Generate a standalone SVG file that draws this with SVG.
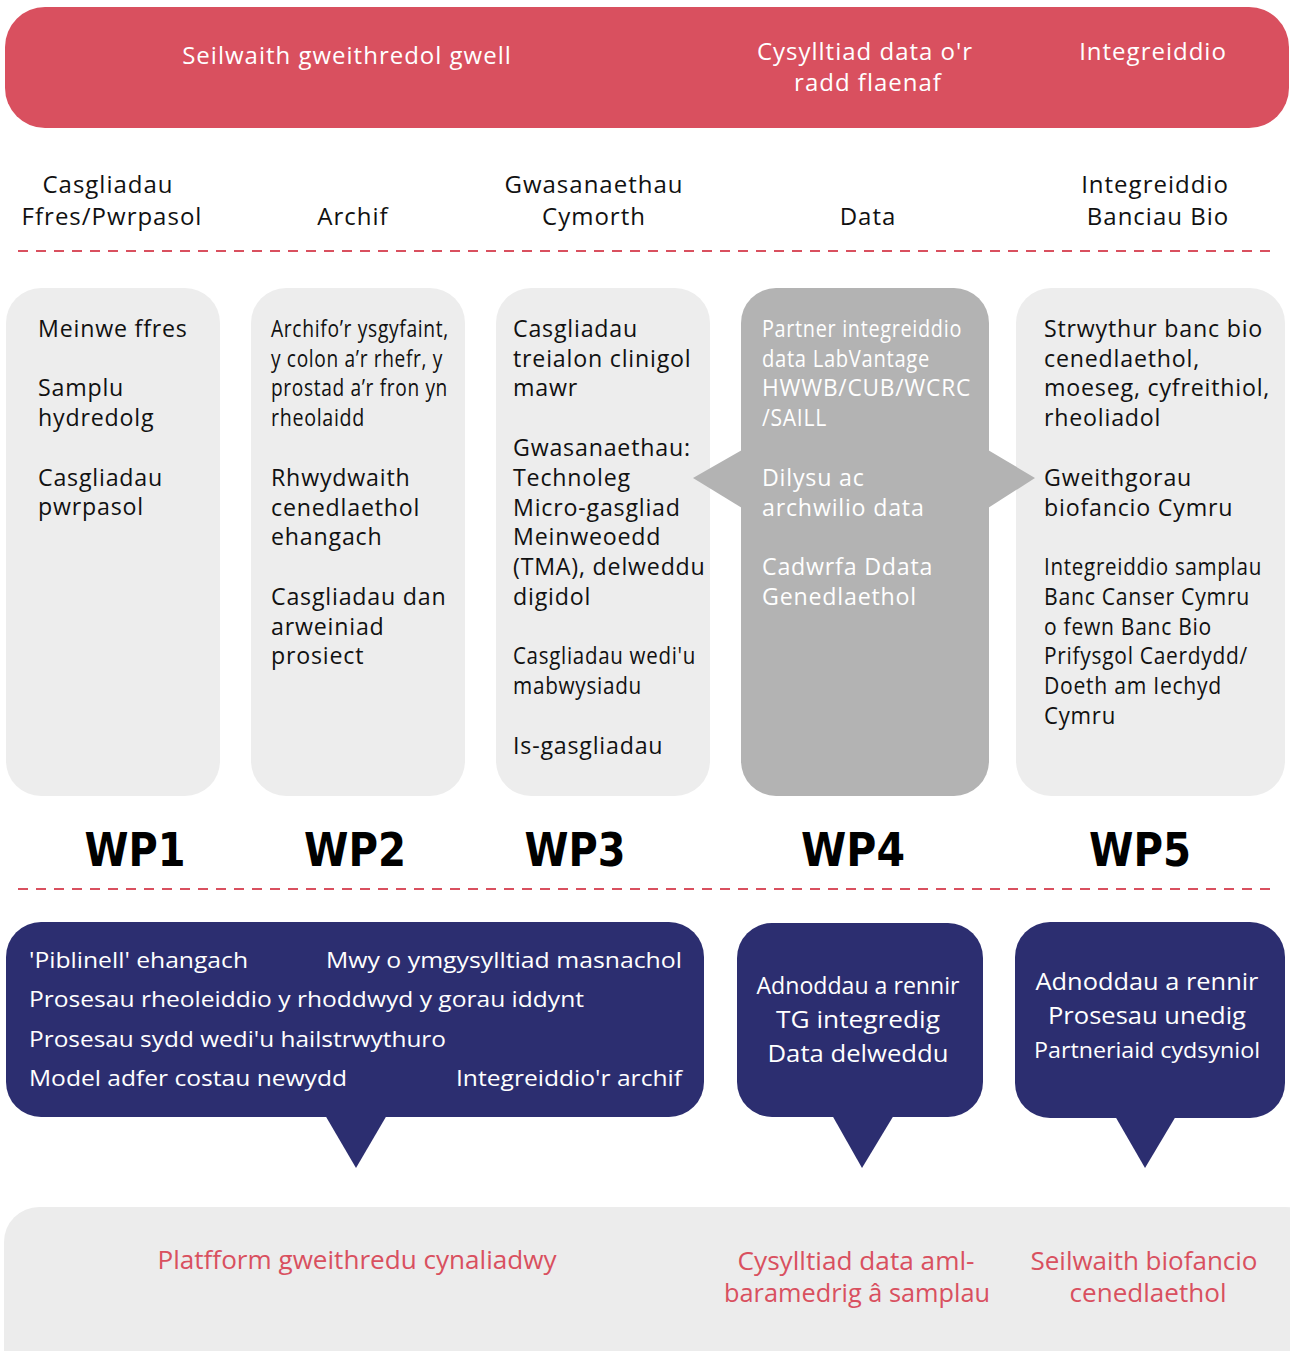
<svg xmlns="http://www.w3.org/2000/svg" width="1290" height="1351" viewBox="0 0 1290 1351">
<style>
text{font-family:"Open Sans","Noto Sans","Liberation Sans",sans-serif;}
.ban{fill:#ffffff;font-size:24px;text-anchor:middle;letter-spacing:1px;}
.hd{fill:#111111;font-size:24px;text-anchor:middle;letter-spacing:1px;}
.col{fill:#ededed;}
.ct{fill:#111111;font-size:23.2px;letter-spacing:0.8px;}
.wt{fill:#ffffff;font-size:23.2px;letter-spacing:0.8px;}
.wp{font-family:"DejaVu Sans",sans-serif;font-weight:bold;font-size:46px;fill:#000;text-anchor:middle;}
.bub{fill:#2c2e70;}
.bt{fill:#ffffff;font-size:22.5px;}
.bc{fill:#ffffff;font-size:23.5px;text-anchor:middle;}
.rt{fill:#d9505f;font-size:25px;text-anchor:middle;}
.dash{stroke:#d9505f;stroke-width:2;stroke-dasharray:10 8;fill:none;}
</style>
<rect width="1290" height="1351" fill="#ffffff"/>

<g id="banner">
<rect x="5" y="7" width="1284" height="121" rx="40" fill="#d9505f"/>
<text class="ban" x="347" y="64">Seilwaith gweithredol gwell</text>
<text class="ban" x="865" y="60">Cysylltiad data o'r</text>
<text class="ban" x="868" y="91">radd flaenaf</text>
<text class="ban" x="1153" y="60">Integreiddio</text>
</g>

<g id="headers">
<text class="hd" x="108" y="193">Casgliadau</text>
<text class="hd" x="112" y="225">Ffres/Pwrpasol</text>
<text class="hd" x="353" y="225">Archif</text>
<text class="hd" x="594" y="193">Gwasanaethau</text>
<text class="hd" x="594" y="225">Cymorth</text>
<text class="hd" x="868" y="225">Data</text>
<text class="hd" x="1155" y="193">Integreiddio</text>
<text class="hd" x="1158" y="225">Banciau Bio</text>
</g>

<g id="dividers">
<line class="dash" x1="18" y1="251" x2="1275" y2="251"/>
<line class="dash" x1="18" y1="889" x2="1275" y2="889"/>
</g>

<g id="col1">
<rect class="col" x="6" y="288" width="214" height="508" rx="35"/>
<text class="ct" x="38" y="337">Meinwe ffres</text>
<text class="ct" x="38" y="396">Samplu</text>
<text class="ct" x="38" y="426">hydredolg</text>
<text class="ct" x="38" y="486">Casgliadau</text>
<text class="ct" x="38" y="515">pwrpasol</text>
</g>

<g id="col2">
<rect class="col" x="251" y="288" width="214" height="508" rx="35"/>
<text class="ct" x="271" y="337" textLength="178" lengthAdjust="spacingAndGlyphs">Archifo’r ysgyfaint,</text>
<text class="ct" x="271" y="367" textLength="172" lengthAdjust="spacingAndGlyphs">y colon a’r rhefr, y</text>
<text class="ct" x="271" y="396" textLength="177" lengthAdjust="spacingAndGlyphs">prostad a’r fron yn</text>
<text class="ct" x="271" y="426" textLength="94" lengthAdjust="spacingAndGlyphs">rheolaidd</text>
<text class="ct" x="271" y="486">Rhwydwaith</text>
<text class="ct" x="271" y="516">cenedlaethol</text>
<text class="ct" x="271" y="545">ehangach</text>
<text class="ct" x="271" y="605">Casgliadau dan</text>
<text class="ct" x="271" y="635">arweiniad</text>
<text class="ct" x="271" y="664">prosiect</text>
</g>

<g id="col3">
<rect class="col" x="496" y="288" width="214" height="508" rx="35"/>
<text class="ct" x="513" y="337">Casgliadau</text>
<text class="ct" x="513" y="367">treialon clinigol</text>
<text class="ct" x="513" y="396">mawr</text>
<text class="ct" x="513" y="456">Gwasanaethau:</text>
<text class="ct" x="513" y="486">Technoleg</text>
<text class="ct" x="513" y="516">Micro-gasgliad</text>
<text class="ct" x="513" y="545">Meinweoedd</text>
<text class="ct" x="513" y="575">(TMA), delweddu</text>
<text class="ct" x="513" y="605">digidol</text>
<text class="ct" x="513" y="664" textLength="183" lengthAdjust="spacingAndGlyphs">Casgliadau wedi'u</text>
<text class="ct" x="513" y="694" textLength="129" lengthAdjust="spacingAndGlyphs">mabwysiadu</text>
<text class="ct" x="513" y="754">Is-gasgliadau</text>
</g>

<g id="col5">
<rect class="col" x="1016" y="288" width="269" height="508" rx="35"/>
<text class="ct" x="1044" y="337">Strwythur banc bio</text>
<text class="ct" x="1044" y="367">cenedlaethol,</text>
<text class="ct" x="1044" y="396">moeseg, cyfreithiol,</text>
<text class="ct" x="1044" y="426">rheoliadol</text>
<text class="ct" x="1044" y="486">Gweithgorau</text>
<text class="ct" x="1044" y="516">biofancio Cymru</text>
<text class="ct" x="1044" y="575" textLength="218" lengthAdjust="spacingAndGlyphs">Integreiddio samplau</text>
<text class="ct" x="1044" y="605" textLength="206" lengthAdjust="spacingAndGlyphs">Banc Canser Cymru</text>
<text class="ct" x="1044" y="635" textLength="168" lengthAdjust="spacingAndGlyphs">o fewn Banc Bio</text>
<text class="ct" x="1044" y="664" textLength="204" lengthAdjust="spacingAndGlyphs">Prifysgol Caerdydd/</text>
<text class="ct" x="1044" y="694" textLength="178" lengthAdjust="spacingAndGlyphs">Doeth am Iechyd</text>
<text class="ct" x="1044" y="724" textLength="72" lengthAdjust="spacingAndGlyphs">Cymru</text>
</g>

<g id="col4">
<polygon points="693,478 742,450 742,508" fill="#b3b3b3"/>
<polygon points="1035,478 988,450 988,508" fill="#b3b3b3"/>
<rect x="741" y="288" width="248" height="508" rx="35" fill="#b3b3b3"/>
<text class="wt" x="762" y="337" textLength="200" lengthAdjust="spacingAndGlyphs">Partner integreiddio</text>
<text class="wt" x="762" y="367" textLength="168" lengthAdjust="spacingAndGlyphs">data LabVantage</text>
<text class="wt" x="762" y="396" textLength="209" lengthAdjust="spacingAndGlyphs">HWWB/CUB/WCRC</text>
<text class="wt" x="762" y="426" textLength="65" lengthAdjust="spacingAndGlyphs">/SAILL</text>
<text class="wt" x="762" y="486">Dilysu ac</text>
<text class="wt" x="762" y="516">archwilio data</text>
<text class="wt" x="762" y="575">Cadwrfa Ddata</text>
<text class="wt" x="762" y="605">Genedlaethol</text>
</g>

<g id="wp-labels">
<text class="wp" x="135" y="866" textLength="101" lengthAdjust="spacingAndGlyphs">WP1</text>
<text class="wp" x="355" y="866" textLength="102" lengthAdjust="spacingAndGlyphs">WP2</text>
<text class="wp" x="575" y="866" textLength="101" lengthAdjust="spacingAndGlyphs">WP3</text>
<text class="wp" x="853" y="866" textLength="104" lengthAdjust="spacingAndGlyphs">WP4</text>
<text class="wp" x="1140" y="866" textLength="102" lengthAdjust="spacingAndGlyphs">WP5</text>
</g>

<g id="bubble1">
<rect class="bub" x="6" y="922" width="698" height="195" rx="35"/>
<polygon class="bub" points="325,1115 387,1115 356,1168"/>
<text class="bt" x="29" y="968" textLength="219" lengthAdjust="spacingAndGlyphs">'Piblinell' ehangach</text>
<text class="bt" x="326" y="968" textLength="356" lengthAdjust="spacingAndGlyphs">Mwy o ymgysylltiad masnachol</text>
<text class="bt" x="29" y="1007" textLength="555" lengthAdjust="spacingAndGlyphs">Prosesau rheoleiddio y rhoddwyd y gorau iddynt</text>
<text class="bt" x="29" y="1047" textLength="417" lengthAdjust="spacingAndGlyphs">Prosesau sydd wedi'u hailstrwythuro</text>
<text class="bt" x="29" y="1086" textLength="318" lengthAdjust="spacingAndGlyphs">Model adfer costau newydd</text>
<text class="bt" x="456" y="1086" textLength="226" lengthAdjust="spacingAndGlyphs">Integreiddio'r archif</text>
</g>

<g id="bubble2">
<rect class="bub" x="737" y="923" width="246" height="194" rx="35"/>
<polygon class="bub" points="832,1115 894,1115 862,1168"/>
<text class="bc" x="858" y="994" textLength="203" lengthAdjust="spacingAndGlyphs">Adnoddau a rennir</text>
<text class="bc" x="858" y="1028" textLength="164" lengthAdjust="spacingAndGlyphs">TG integredig</text>
<text class="bc" x="858" y="1062" textLength="181" lengthAdjust="spacingAndGlyphs">Data delweddu</text>
</g>

<g id="bubble3">
<rect class="bub" x="1015" y="922" width="270" height="196" rx="35"/>
<polygon class="bub" points="1115,1116 1176,1116 1145,1168"/>
<text class="bc" x="1147" y="990" textLength="223" lengthAdjust="spacingAndGlyphs">Adnoddau a rennir</text>
<text class="bc" x="1147" y="1024" textLength="198" lengthAdjust="spacingAndGlyphs">Prosesau unedig</text>
<text class="bc" x="1147" y="1058" style="font-size:22px" textLength="226" lengthAdjust="spacingAndGlyphs">Partneriaid cydsyniol</text>
</g>

<g id="outcomes">
<rect x="4" y="1207" width="1316" height="190" rx="35" fill="#ececec"/>
<text class="rt" x="357" y="1269" textLength="399" lengthAdjust="spacingAndGlyphs">Platfform gweithredu cynaliadwy</text>
<text class="rt" x="856" y="1270" textLength="237" lengthAdjust="spacingAndGlyphs">Cysylltiad data aml-</text>
<text class="rt" x="857" y="1302" textLength="266" lengthAdjust="spacingAndGlyphs">baramedrig â samplau</text>
<text class="rt" x="1144" y="1270" textLength="227" lengthAdjust="spacingAndGlyphs">Seilwaith biofancio</text>
<text class="rt" x="1148" y="1302" textLength="157" lengthAdjust="spacingAndGlyphs">cenedlaethol</text>
</g>
</svg>
